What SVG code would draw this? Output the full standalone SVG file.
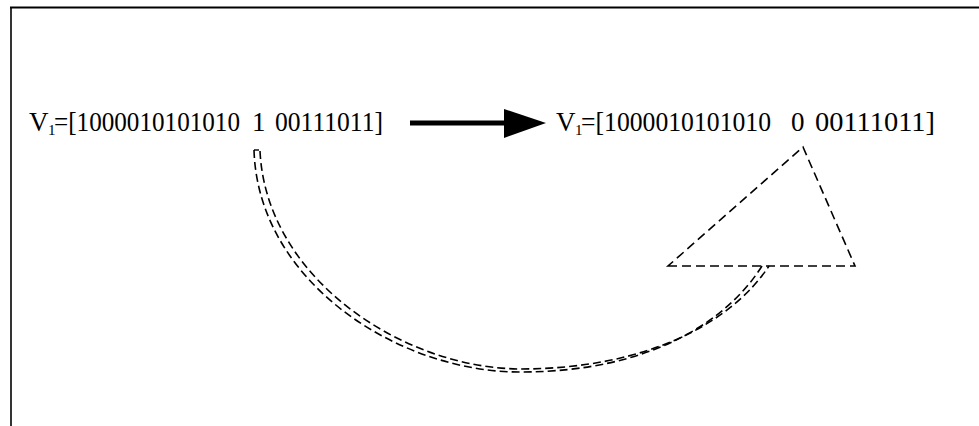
<svg xmlns="http://www.w3.org/2000/svg" width="979" height="426" viewBox="0 0 979 426">
<style>
.t{font-family:"Liberation Serif","Times New Roman",serif;font-size:27px;fill:#000}
.s{font-size:15px}
.d{fill:none;stroke:#000;stroke-width:1.6;stroke-dasharray:8 4}
.tri{fill:none;stroke:#000;stroke-width:1.6;stroke-dasharray:9 5}
</style>
<rect width="979" height="426" fill="#fff"/>
<g id="frame" stroke="#000" fill="none">
<line x1="10" y1="7.5" x2="979" y2="7.5" stroke-width="2.2"/>
<line x1="11" y1="7" x2="11" y2="426" stroke-width="1.6"/>
</g>
<g id="v-before">
<text class="t" y="131"><tspan x="29">V</tspan><tspan class="s" x="48" y="135">1</tspan><tspan x="54" y="131" textLength="186" lengthAdjust="spacingAndGlyphs">=[1000010101010</tspan><tspan x="252">1</tspan><tspan x="275" textLength="108" lengthAdjust="spacingAndGlyphs">00111011]</tspan></text>
</g>
<g id="v-after">
<text class="t" y="131"><tspan x="556">V</tspan><tspan class="s" x="575" y="135">1</tspan><tspan x="581" y="131" textLength="190" lengthAdjust="spacingAndGlyphs">=[1000010101010</tspan><tspan x="791">0</tspan><tspan x="815" textLength="120" lengthAdjust="spacingAndGlyphs">00111011]</tspan></text>
</g>
<g id="triangle">
<polygon class="tri" points="668,266 855,266 803,147"/>
</g>
<g id="connectors">
<line x1="410" y1="123" x2="508" y2="123" stroke="#000" stroke-width="5"/>
<polygon points="504,109 546,123 504,138" fill="#000"/>
<path class="d" d="M254,150 C258,282 398,372 520,372 C652,372 728,320 762,266"/>
<path class="d" d="M260,151 C266,278 402,368 520,369 C648,369 732,322 769,266"/>
<line x1="254" y1="150" x2="259" y2="150" stroke="#000" stroke-width="1.4"/>
</g>
</svg>
